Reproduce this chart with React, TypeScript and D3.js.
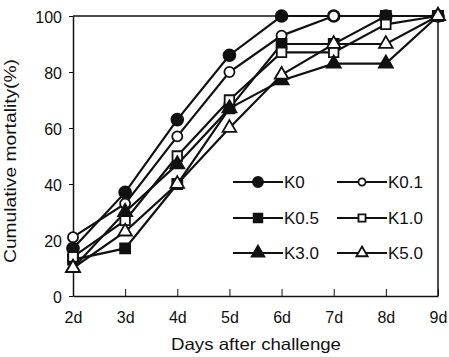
import React, { useEffect, useRef } from 'react';
import * as d3 from 'd3';

// days after challenge (x categories)
const days = ['2d', '3d', '4d', '5d', '6d', '7d', '8d', '9d'];
const yTicks = [0, 20, 40, 60, 80, 100];

// cumulative mortality (%) per group
const k0 = [17, 37, 63, 86, 100, 100, 100, 100];
const k01 = [21, 33, 57, 80, 93, 100, 100, 100];
const k05 = [13, 17, 40, 67, 90, 90, 100, 100];
const k10 = [14, 27, 50, 70, 87, 87, 97, 100];
const k30 = [10, 30, 47, 67, 77, 83, 83, 100];
const k50 = [10, 23, 40, 60, 79, 90, 90, 100];

const seriesNames = ['K0', 'K0.1', 'K0.5', 'K1.0', 'K3.0', 'K5.0'];
const seriesValues = [k0, k01, k05, k10, k30, k50];

const FONT = '"Liberation Sans", Arial, sans-serif';

const App = () => {
  const ref = useRef<SVGSVGElement>(null);

  useEffect(() => {
    const width = 449;
    const height = 357;
    const svg = d3.select(ref.current);
    svg.selectAll('*').remove();
    svg.attr('width', width).attr('height', height);

    const x = d3.scalePoint<string>().domain(days).range([73, 438]);
    const y = d3.scaleLinear().domain([0, 100]).range([296, 16]);

    // marker shapes: circle, circle, square, square, triangle, triangle
    const shapes = [d3.symbolCircle, d3.symbolCircle, d3.symbolSquare, d3.symbolSquare, d3.symbolTriangle, d3.symbolTriangle];
    const sizes = [110, 80, 100, 90, 85, 80];
    const legendSizes = [80, 40, 75, 50, 70, 55];
    const filled = [true, false, true, false, true, false];

    // frame (top and right)
    svg.append('line').attr('x1', 73).attr('x2', 438).attr('y1', 16).attr('y2', 16)
      .attr('stroke', '#111').attr('stroke-width', 1.5);
    svg.append('line').attr('x1', 438).attr('x2', 438).attr('y1', 16).attr('y2', 296)
      .attr('stroke', '#111').attr('stroke-width', 1.5);

    // y axis
    const gy = svg.append('g').attr('transform', 'translate(73,0)')
      .call(d3.axisLeft(y).tickValues(yTicks).tickSize(4).tickSizeOuter(0).tickPadding(7));
    gy.select('.domain').attr('stroke', '#111').attr('stroke-width', 1.5);
    gy.selectAll('line').attr('stroke', '#111');
    gy.selectAll('text').attr('font-family', FONT).attr('font-size', 16).attr('fill', '#111').attr('dy', '0.4em');

    // x axis
    const gx = svg.append('g').attr('transform', 'translate(0,296)')
      .call(d3.axisBottom(x).tickSize(-7).tickSizeOuter(0).tickPadding(16));
    gx.select('.domain').attr('stroke', '#111').attr('stroke-width', 1.5);
    gx.selectAll('line').attr('stroke', '#111');
    gx.selectAll('text').attr('font-family', FONT).attr('font-size', 16).attr('fill', '#111');

    // axis titles
    svg.append('text').attr('x', 256).attr('y', 350).attr('text-anchor', 'middle')
      .attr('font-family', FONT).attr('font-size', 16.5).attr('fill', '#111')
      .attr('textLength', 170).attr('lengthAdjust', 'spacingAndGlyphs')
      .text('Days after challenge');
    svg.append('text').attr('transform', 'translate(16,161) rotate(-90)').attr('text-anchor', 'middle')
      .attr('font-family', FONT).attr('font-size', 16.5).attr('fill', '#111')
      .attr('textLength', 204).attr('lengthAdjust', 'spacingAndGlyphs')
      .text('Cumulative mortality(%)');

    const line = d3.line<number>().x((d, i) => x(days[i]) as number).y(d => y(d));

    // lines
    seriesValues.forEach(vals => {
      svg.append('path').attr('d', line(vals)).attr('fill', 'none')
        .attr('stroke', '#111').attr('stroke-width', 2.2);
    });

    // markers
    seriesValues.forEach((vals, s) => {
      const sym = d3.symbol().type(shapes[s]).size(sizes[s]);
      svg.append('g').selectAll('path').data(vals).enter().append('path')
        .attr('d', sym())
        .attr('transform', (d, i) => `translate(${x(days[i])},${y(d)})`)
        .attr('fill', filled[s] ? '#111' : '#fff')
        .attr('stroke', '#111').attr('stroke-width', 1.8);
    });

    // legend
    const legX = [233, 337];
    const legY = [182, 218, 253];
    seriesNames.forEach((name, s) => {
      const lx = legX[s % 2];
      const ly = legY[Math.floor(s / 2)];
      const g = svg.append('g').attr('transform', `translate(${lx},${ly})`);
      g.append('line').attr('x1', 0).attr('x2', 50).attr('y1', 0).attr('y2', 0)
        .attr('stroke', '#111').attr('stroke-width', 2);
      g.append('path').attr('d', d3.symbol().type(shapes[s]).size(legendSizes[s])())
        .attr('transform', 'translate(25,0)')
        .attr('fill', filled[s] ? '#111' : '#fff')
        .attr('stroke', '#111').attr('stroke-width', 1.8);
      g.append('text').attr('x', 51).attr('y', 0).attr('dy', '0.36em')
        .attr('font-family', FONT).attr('font-size', 17).attr('fill', '#111')
        .text(name);
    });
  }, []);

  return (
    <svg ref={ref} style={{ position: 'absolute', left: 0, top: 0, background: '#fff' }} />
  );
};

export default App;
